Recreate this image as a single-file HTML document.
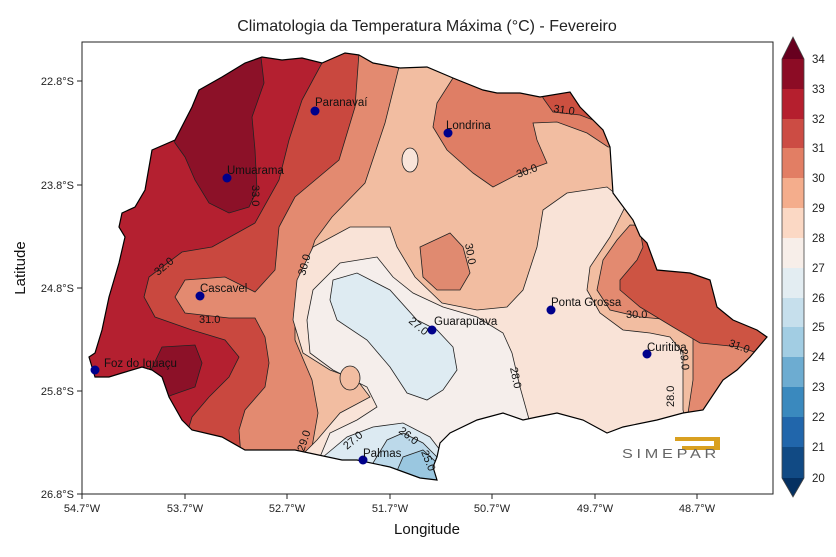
<!DOCTYPE html>
<html><head><meta charset="utf-8"><style>
body{margin:0;background:#fff;}
svg{display:block;font-family:"Liberation Sans","DejaVu Sans",sans-serif;}
</style></head><body>
<svg width="836" height="557" viewBox="0 0 836 557" xmlns="http://www.w3.org/2000/svg">
<defs>
<clipPath id="st"><polygon points="359,55 373,63 400,68 427,67 453,78 483,90 497,93 520,93 540,97 570,92 580,107 603,130 610,147 613,193 633,220 640,236 647,243 657,270 690,273 710,280 717,307 733,320 757,330 767,337 750,357 737,370 723,380 703,410 683,413 657,420 623,427 607,433 583,420 557,413 537,417 523,420 503,413 477,420 450,433 440,443 437,457 433,467 437,480 420,478 390,467 357,460 342,460 295,450 245,450 222,437 192,430 182,420 169,397 162,377 152,370 142,367 122,373 109,377 95,377 89,357 95,353 102,330 109,297 119,263 125,237 119,227 122,213 135,207 145,190 152,150 175,140 192,107 199,90 222,77 245,63 262,57 282,60 302,58 322,63 345,53"/></clipPath>
</defs>
<text x="427" y="31" font-size="16" text-anchor="middle" fill="#222">Climatologia da Temperatura Máxima (°C) - Fevereiro</text>
<g clip-path="url(#st)" stroke="#222" stroke-width="0.8">
<rect x="60" y="40" width="720" height="460" fill="#f2bda1" stroke="none"/>
<polygon fill="#e38a70" points="399,40 399,67 385,123 365,183 332,217 315,240 305,270 295,303 295,340 312,380 318,413 312,447 300,470 60,470 60,40"/>
<polygon fill="#c9483f" points="359,40 359,53 355,107 339,160 295,197 279,227 275,270 255,292 225,277 185,280 175,297 185,313 229,318 255,318 265,337 269,363 265,387 245,410 239,430 242,470 60,470 60,40"/>
<polygon fill="#b42030" points="322,40 322,63 302,100 289,140 279,180 255,223 212,247 182,252 149,277 144,297 155,317 192,330 225,340 239,357 229,377 209,397 192,417 185,440 180,470 60,470 60,40"/>
<polygon fill="#8c1128" points="175,143 165,120 200,60 259,40 264,83 252,117 255,150 257,190 249,207 229,213 209,203 195,180 185,157"/>
<polygon fill="#8c1128" points="162,347 195,345 202,363 195,387 172,395 160,400 150,372"/>
<polygon fill="#df7e65" points="453,40 453,78 437,103 433,127 447,150 473,173 493,187 520,173 547,163 537,140 533,123 557,122 587,133 608,147 630,147 630,40"/>
<polygon fill="#cc5040" points="540,80 543,98 553,112 580,115 593,120 620,120 620,80"/>
<polygon fill="#e08a70" points="420,247 450,233 463,247 470,273 460,290 437,290 423,277"/>
<ellipse cx="410" cy="160" rx="8" ry="12" fill="#f9e4d9"/>
<polygon fill="#f9e3d7" points="313,247 350,227 390,227 397,247 415,277 442,303 477,310 507,307 523,290 537,247 543,210 567,193 607,187 627,203 610,237 590,267 587,290 600,313 623,330 650,333 670,337 683,353 683,410 690,440 300,470 300,457 317,440 340,413 370,397 357,380 330,370 303,353 293,320 297,280"/>
<polygon fill="#f5eeeb" points="307,320 313,290 340,263 377,257 393,277 413,293 443,307 477,317 503,333 512,353 520,387 532,430 320,470 320,457 330,433 357,420 377,407 367,387 333,370 310,353"/>
<ellipse cx="350" cy="378" rx="10" ry="12" fill="#f2bda1"/>
<polygon fill="#deebf2" points="333,280 357,273 390,290 417,320 437,330 453,347 457,370 443,390 427,400 407,393 390,367 367,340 337,320 330,300"/>
<polygon fill="#dceaf2" points="323,457 347,437 373,427 403,423 430,437 440,450 440,490 320,490"/>
<polygon fill="#bcd9ea" points="373,463 387,440 403,433 423,443 437,457 440,490 370,490"/>
<polygon fill="#9ac7e0" points="393,480 403,457 423,450 437,463 440,490 390,490"/>
<polygon fill="#e38a70" points="617,240 603,260 597,290 610,310 640,317 673,320 693,337 693,380 687,420 780,420 780,230 630,225"/>
<polygon fill="#cd5443" points="643,247 637,260 620,280 620,290 640,307 673,327 700,343 740,347 757,353 780,353 780,230 640,230"/>
</g>
<polygon fill="none" stroke="#000" stroke-width="1.2" points="359,55 373,63 400,68 427,67 453,78 483,90 497,93 520,93 540,97 570,92 580,107 603,130 610,147 613,193 633,220 640,236 647,243 657,270 690,273 710,280 717,307 733,320 757,330 767,337 750,357 737,370 723,380 703,410 683,413 657,420 623,427 607,433 583,420 557,413 537,417 523,420 503,413 477,420 450,433 440,443 437,457 433,467 437,480 420,478 390,467 357,460 342,460 295,450 245,450 222,437 192,430 182,420 169,397 162,377 152,370 142,367 122,373 109,377 95,377 89,357 95,353 102,330 109,297 119,263 125,237 119,227 122,213 135,207 145,190 152,150 175,140 192,107 199,90 222,77 245,63 262,57 282,60 302,58 322,63 345,53"/>
<g font-size="11" fill="#111">
<text transform="translate(252,185) rotate(90)">33.0</text>
<text transform="translate(158,276) rotate(-40)">32.0</text>
<text x="199" y="323">31.0</text>
<text transform="translate(305,276) rotate(-75)">30.0</text>
<text transform="translate(518,178) rotate(-20)">30.0</text>
<text transform="translate(553,112) rotate(8)">31.0</text>
<text transform="translate(465,244) rotate(80)">30.0</text>
<text transform="translate(408,322) rotate(40)">27.0</text>
<text transform="translate(510,368) rotate(78)">28.0</text>
<text x="626" y="318">30.0</text>
<text transform="translate(728,346) rotate(20)">31.0</text>
<text transform="translate(680,349) rotate(85)">29.0</text>
<text transform="translate(674,407) rotate(-90)">28.0</text>
<text transform="translate(304,452) rotate(-72)">29.0</text>
<text transform="translate(347,450) rotate(-40)">27.0</text>
<text transform="translate(398,432) rotate(38)">26.0</text>
<text transform="translate(421,452) rotate(68)">25.0</text>
</g>
<g fill="#00008b">
<circle cx="315" cy="111" r="4.5"/><circle cx="448" cy="133" r="4.5"/><circle cx="227" cy="178" r="4.5"/>
<circle cx="200" cy="296" r="4.5"/><circle cx="432" cy="330" r="4.5"/><circle cx="551" cy="310" r="4.5"/>
<circle cx="647" cy="354" r="4.5"/><circle cx="95" cy="370" r="4.5"/><circle cx="363" cy="460" r="4.5"/>
</g>
<g font-size="11.5" fill="#111">
<text x="315" y="106">Paranavaí</text><text x="446" y="129">Londrina</text><text x="227" y="174">Umuarama</text>
<text x="200" y="292">Cascavel</text><text x="434" y="325">Guarapuava</text><text x="551" y="306">Ponta Grossa</text>
<text x="647" y="351">Curitiba</text><text x="104" y="367">Foz do Iguaçu</text><text x="363" y="457">Palmas</text>
</g>
<path d="M675,437 h45 v13 h-38 v-4 h32 v-5 h-39 z" fill="#d9a020"/>
<text x="622" y="458" font-size="13" fill="#666" letter-spacing="3" textLength="98" lengthAdjust="spacingAndGlyphs">SIMEPAR</text>
<rect x="82" y="42" width="691" height="452" fill="none" stroke="#222" stroke-width="1"/>
<g stroke="#222" stroke-width="1">
<line x1="77" y1="81" x2="82" y2="81"/><line x1="77" y1="185" x2="82" y2="185"/><line x1="77" y1="288" x2="82" y2="288"/><line x1="77" y1="391" x2="82" y2="391"/><line x1="77" y1="494" x2="82" y2="494"/>
<line x1="82" y1="494" x2="82" y2="499"/><line x1="185" y1="494" x2="185" y2="499"/><line x1="287" y1="494" x2="287" y2="499"/><line x1="390" y1="494" x2="390" y2="499"/><line x1="492" y1="494" x2="492" y2="499"/><line x1="595" y1="494" x2="595" y2="499"/><line x1="697" y1="494" x2="697" y2="499"/>
</g>
<g font-size="11" fill="#222" text-anchor="end">
<text x="74" y="85">22.8°S</text><text x="74" y="189">23.8°S</text><text x="74" y="292">24.8°S</text><text x="74" y="395">25.8°S</text><text x="74" y="498">26.8°S</text>
</g>
<g font-size="11" fill="#222" text-anchor="middle">
<text x="82" y="512">54.7°W</text><text x="185" y="512">53.7°W</text><text x="287" y="512">52.7°W</text><text x="390" y="512">51.7°W</text><text x="492" y="512">50.7°W</text><text x="595" y="512">49.7°W</text><text x="697" y="512">48.7°W</text>
</g>
<text x="427" y="534" font-size="15" text-anchor="middle" fill="#111">Longitude</text>
<text transform="translate(25,268) rotate(-90)" font-size="15" text-anchor="middle" fill="#111">Latitude</text>
<g>
<polygon points="782,59 793,37 804,59" fill="#67001f"/>
<rect x="782" y="59" width="22" height="30" fill="#8c0c25"/>
<rect x="782" y="89" width="22" height="30" fill="#b51f2e"/>
<rect x="782" y="119" width="22" height="30" fill="#cc4c44"/>
<rect x="782" y="148" width="22" height="30" fill="#e27e64"/>
<rect x="782" y="178" width="22" height="30" fill="#f4ad8c"/>
<rect x="782" y="208" width="22" height="30" fill="#fbd8c4"/>
<rect x="782" y="238" width="22" height="30" fill="#f7eee9"/>
<rect x="782" y="268" width="22" height="30" fill="#e3edf2"/>
<rect x="782" y="298" width="22" height="30" fill="#c6dfec"/>
<rect x="782" y="327" width="22" height="30" fill="#a2cde3"/>
<rect x="782" y="357" width="22" height="30" fill="#6dacd1"/>
<rect x="782" y="387" width="22" height="30" fill="#3a89be"/>
<rect x="782" y="417" width="22" height="30" fill="#2166ab"/>
<rect x="782" y="447" width="22" height="31" fill="#114a84"/>
<polygon points="782,478 793,497 804,478" fill="#053061"/>
<polygon points="782,59 793,37 804,59 804,478 793,497 782,478" fill="none" stroke="#444" stroke-width="0.8"/>
</g>
<g font-size="11.5" fill="#222">
<text x="812" y="63">34</text><text x="812" y="93">33</text><text x="812" y="123">32</text><text x="812" y="152">31</text><text x="812" y="182">30</text><text x="812" y="212">29</text><text x="812" y="242">28</text><text x="812" y="272">27</text><text x="812" y="302">26</text><text x="812" y="331">25</text><text x="812" y="361">24</text><text x="812" y="391">23</text><text x="812" y="421">22</text><text x="812" y="451">21</text><text x="812" y="482">20</text>
</g>
</svg>
</body></html>
